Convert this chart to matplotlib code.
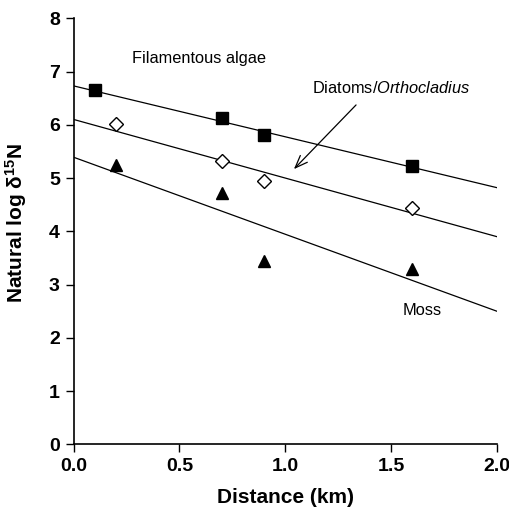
import matplotlib.pyplot as plt

plt.rcParams["font.family"] = ["Liberation Sans", "DejaVu Sans"]
plt.rcParams["mathtext.fontset"] = "custom"
plt.rcParams["mathtext.rm"] = "Liberation Sans"
plt.rcParams["mathtext.it"] = "Liberation Sans:italic"
plt.rcParams["mathtext.bf"] = "Liberation Sans:bold"
plt.rcParams["mathtext.default"] = "regular"

# ============= Data ===========#
dist_algae = [0.1, 0.7, 0.9, 1.6]
lnN_algae = [6.65, 6.12, 5.80, 5.23]
dist_diatom = [0.2, 0.7, 0.9, 1.6]
lnN_diatom = [6.02, 5.32, 4.95, 4.44]
dist_moss = [0.2, 0.7, 0.9, 1.6]
lnN_moss = [5.25, 4.72, 3.45, 3.30]

# regression lines (intercept, slope) as drawn
fit_algae = (6.73, -0.955)
fit_diatom = (6.10, -1.10)
fit_moss = (5.39, -1.445)

x_ticks = [0.0, 0.5, 1.0, 1.5, 2.0]
y_ticks = [0, 1, 2, 3, 4, 5, 6, 7, 8]

fig = plt.figure(figsize=(5.1, 5.12), dpi=100)
ax = fig.add_axes([0.1445, 0.1322, 0.8295, 0.8321])

for b, m in [fit_algae, fit_diatom, fit_moss]:
    ax.plot([0, 2], [b, b + 2 * m], color="black", lw=0.9, zorder=2)

ax.plot(dist_algae, lnN_algae, "s", color="black", ms=8, zorder=3)
ax.plot(dist_diatom, lnN_diatom, "D", mfc="white", mec="black", mew=1.0, ms=6.8, zorder=3)
ax.plot(dist_moss, lnN_moss, "^", color="black", ms=8.5, zorder=3)

ax.text(0.274, 7.25, "Filamentous algae", fontsize=11.8, va="center", ha="left")
ax.text(1.125, 6.69, r"Diatoms/$\it{Orthocladius}$", fontsize=11.8, va="center", ha="left")
ax.text(1.557, 2.52, "Moss", fontsize=11.8, va="center", ha="left")
ax.annotate("", xy=(1.032, 5.13), xytext=(1.344, 6.41),
            arrowprops=dict(arrowstyle="->,head_length=0.9,head_width=0.35", color="black", lw=0.9))

ax.set_xlim(0, 2)
ax.set_ylim(0, 8)
ax.set_xticks(x_ticks)
ax.set_xticklabels(["%.1f" % v for v in x_ticks])
ax.set_yticks(y_ticks)
for lab in ax.get_xticklabels() + ax.get_yticklabels():
    lab.set_fontweight("bold")
    lab.set_fontsize(14)
ax.tick_params(direction="out", length=6, width=1.0, pad=4)
ax.spines["top"].set_visible(False)
ax.spines["right"].set_visible(False)
ax.spines["left"].set_linewidth(1.2)
ax.spines["bottom"].set_linewidth(1.2)

ax.set_xlabel("Distance (km)", fontsize=15, fontweight="bold", labelpad=9)
ax.set_ylabel(r"Natural log $\delta^{15}$N", fontsize=15, fontweight="bold")
ax.yaxis.set_label_coords(-0.105, 0.52)

plt.savefig("out.png", dpi=100)
